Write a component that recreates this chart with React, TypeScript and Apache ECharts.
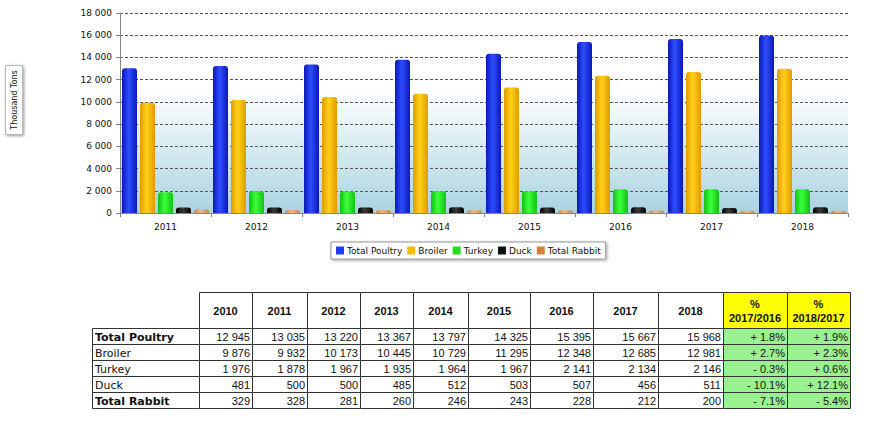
import React, { useEffect, useRef } from "react";
import * as echarts from "echarts";

const tableYears = ["2010", "2011", "2012", "2013", "2014", "2015", "2016", "2017", "2018"];
const totalPoultry = [12945, 13035, 13220, 13367, 13797, 14325, 15395, 15667, 15968];
const broiler = [9876, 9932, 10173, 10445, 10729, 11295, 12348, 12685, 12981];
const turkey = [1976, 1878, 1967, 1935, 1964, 1967, 2141, 2134, 2146];
const duck = [481, 500, 500, 485, 512, 503, 507, 456, 511];
const totalRabbit = [329, 328, 281, 260, 246, 243, 228, 212, 200];
const pct1716 = ["+ 1.8%", "+ 2.7%", "- 0.3%", "- 10.1%", "- 7.1%"];
const pct1817 = ["+ 1.9%", "+ 2.3%", "+ 0.6%", "+ 12.1%", "- 5.4%"];
const rowNames = ["Total Poultry", "Broiler", "Turkey", "Duck", "Total Rabbit"];
const rowBold = [true, false, false, false, true];
const pctHeaders = ["%\n2017/2016", "%\n2018/2017"];

const fmt = (v: number) => String(v).replace(/\B(?=(\d{3})+(?!\d))/g, " ");

const cyl = (dark: string, light: string) =>
  new echarts.graphic.LinearGradient(0, 0, 1, 0, [
    { offset: 0, color: dark },
    { offset: 0.45, color: light },
    { offset: 1, color: dark },
  ]);

export default function App() {
  const ref = useRef<HTMLDivElement>(null);
  useEffect(() => {
    const chart = echarts.init(ref.current!, null, { renderer: "svg" });
    const chartYears = tableYears.slice(1);
    const seriesDefs = [
      { name: "Total Poultry", data: totalPoultry.slice(1), c: cyl("#0a18b8", "#2f4dff"), legend: "#1f3cf0" },
      { name: "Broiler", data: broiler.slice(1), c: cyl("#e09a00", "#ffd21a"), legend: "#f5c000" },
      { name: "Turkey", data: turkey.slice(1), c: cyl("#12c012", "#3cff3c"), legend: "#22dd22" },
      { name: "Duck", data: duck.slice(1), c: cyl("#000000", "#3a3a3a"), legend: "#111111" },
      { name: "Total Rabbit", data: totalRabbit.slice(1), c: cyl("#c88850", "#f0b888"), legend: "#d0803a" },
    ];

    const colX = [199, 252, 307, 360, 413, 468, 530, 593, 658, 723, 787, 850];
    const rowY = [292, 328, 344, 360, 376, 392, 408];
    const labelLeft = 92;
    const g: any[] = [];
    const rows = [totalPoultry, broiler, turkey, duck, totalRabbit];
    for (let c = 0; c < 11; c++) {
      const isPct = c >= 9;
      g.push({
        type: "rect",
        shape: { x: colX[c] + 0.5, y: rowY[0] + 0.5, width: colX[c + 1] - colX[c], height: rowY[1] - rowY[0] },
        style: { fill: isPct ? "#ffff00" : "#ffffff", stroke: "#333", lineWidth: 1 },
      });
      g.push({
        type: "text",
        x: (colX[c] + colX[c + 1]) / 2,
        y: (rowY[0] + rowY[1]) / 2 + 1,
        style: {
          text: isPct ? pctHeaders[c - 9] : tableYears[c],
          fontFamily: "Liberation Sans, Arial",
          fontWeight: "bold",
          fontSize: 11,
          lineHeight: 14,
          fill: "#111",
          align: "center",
          verticalAlign: "middle",
        },
      });
    }
    for (let r = 0; r < 5; r++) {
      const y0 = rowY[r + 1];
      const h = rowY[r + 2] - y0;
      g.push({
        type: "rect",
        shape: { x: labelLeft + 0.5, y: y0 + 0.5, width: colX[0] - labelLeft, height: h },
        style: { fill: "#fff", stroke: "#333", lineWidth: 1 },
      });
      g.push({
        type: "text",
        x: labelLeft + 3,
        y: y0 + h / 2 + 1,
        style: {
          text: rowNames[r],
          fontFamily: "DejaVu Sans, Verdana",
          fontWeight: rowBold[r] ? "bold" : "normal",
          fontSize: 11,
          fill: "#111",
          align: "left",
          verticalAlign: "middle",
        },
      });
      for (let c = 0; c < 11; c++) {
        const isPct = c >= 9;
        const txt = c < 9 ? fmt(rows[r][c]) : c === 9 ? pct1716[r] : pct1817[r];
        g.push({
          type: "rect",
          shape: { x: colX[c] + 0.5, y: y0 + 0.5, width: colX[c + 1] - colX[c], height: h },
          style: { fill: isPct ? "#99f28f" : "#ffffff", stroke: "#333", lineWidth: 1 },
        });
        g.push({
          type: "text",
          x: colX[c + 1] - 2,
          y: y0 + h / 2 + 1,
          style: {
            text: txt,
            fontFamily: "Liberation Sans, Arial",
            fontSize: 11,
            fill: "#111",
            align: "right",
            verticalAlign: "middle",
          },
        });
      }
    }
    g.push({
      type: "rect",
      shape: { x: 5.5, y: 65.5, width: 17, height: 69 },
      style: { fill: "#fff", stroke: "#bbb", lineWidth: 1, shadowBlur: 3, shadowColor: "rgba(0,0,0,0.4)", shadowOffsetX: 1, shadowOffsetY: 1 },
    });
    g.push({
      type: "text",
      x: 14,
      y: 100,
      rotation: Math.PI / 2,
      style: {
        text: "Thousand Tons",
        fontFamily: "DejaVu Sans, Verdana",
        fontSize: 8,
        fill: "#111",
        align: "center",
        verticalAlign: "middle",
      },
    });

    chart.setOption({
      animation: false,
      textStyle: { fontFamily: "DejaVu Sans, Verdana" },
      grid: {
        left: 120,
        top: 13,
        width: 728,
        height: 200,
        show: true,
        borderWidth: 0,
        backgroundColor: new echarts.graphic.LinearGradient(0, 0, 0, 1, [
          { offset: 0, color: "#ffffff" },
          { offset: 0.38, color: "#ffffff" },
          { offset: 0.6, color: "#e2f0f5" },
          { offset: 1, color: "#a9d3e0" },
        ]),
      },
      legend: {
        left: 331,
        top: 242,
        padding: [4, 5],
        icon: "rect",
        itemWidth: 8,
        itemHeight: 8,
        itemGap: 5,
        borderColor: "#999",
        borderWidth: 1,
        backgroundColor: "#fff",
        shadowBlur: 3,
        shadowColor: "rgba(0,0,0,0.4)",
        shadowOffsetX: 1,
        shadowOffsetY: 1,
        textStyle: { fontSize: 9, color: "#111", padding: [0, 0, 0, -2] },
        data: seriesDefs.map((s) => ({ name: s.name, icon: "rect", itemStyle: { color: s.legend, borderWidth: 0 } })),
      },
      xAxis: {
        type: "category",
        data: chartYears,
        axisLine: { lineStyle: { color: "#888" } },
        axisTick: { show: true, length: 4, lineStyle: { color: "#888" } },
        axisLabel: { fontSize: 9, color: "#111", margin: 9 },
      },
      yAxis: {
        type: "value",
        min: 0,
        max: 18000,
        interval: 2000,
        axisLine: { show: true, lineStyle: { color: "#888" } },
        axisTick: { show: true, length: 4, lineStyle: { color: "#888" } },
        axisLabel: { fontSize: 9, color: "#111", margin: 8, formatter: (v: number) => fmt(v) },
        splitLine: { lineStyle: { color: "#555", type: [3, 2] } },
      },
      series: seriesDefs.map((s) => ({
        name: s.name,
        type: "bar",
        data: s.data,
        barWidth: 15,
        barGap: "20%",
        barCategoryGap: "4%",
        itemStyle: { color: s.c, borderRadius: [3, 3, 0, 0] },
      })),
      graphic: g,
    });
    return () => chart.dispose();
  }, []);
  return (
    <div
      ref={ref}
      style={{ position: "fixed", left: 0, top: 0, width: 882, height: 429, background: "#fff" }}
    />
  );
}
